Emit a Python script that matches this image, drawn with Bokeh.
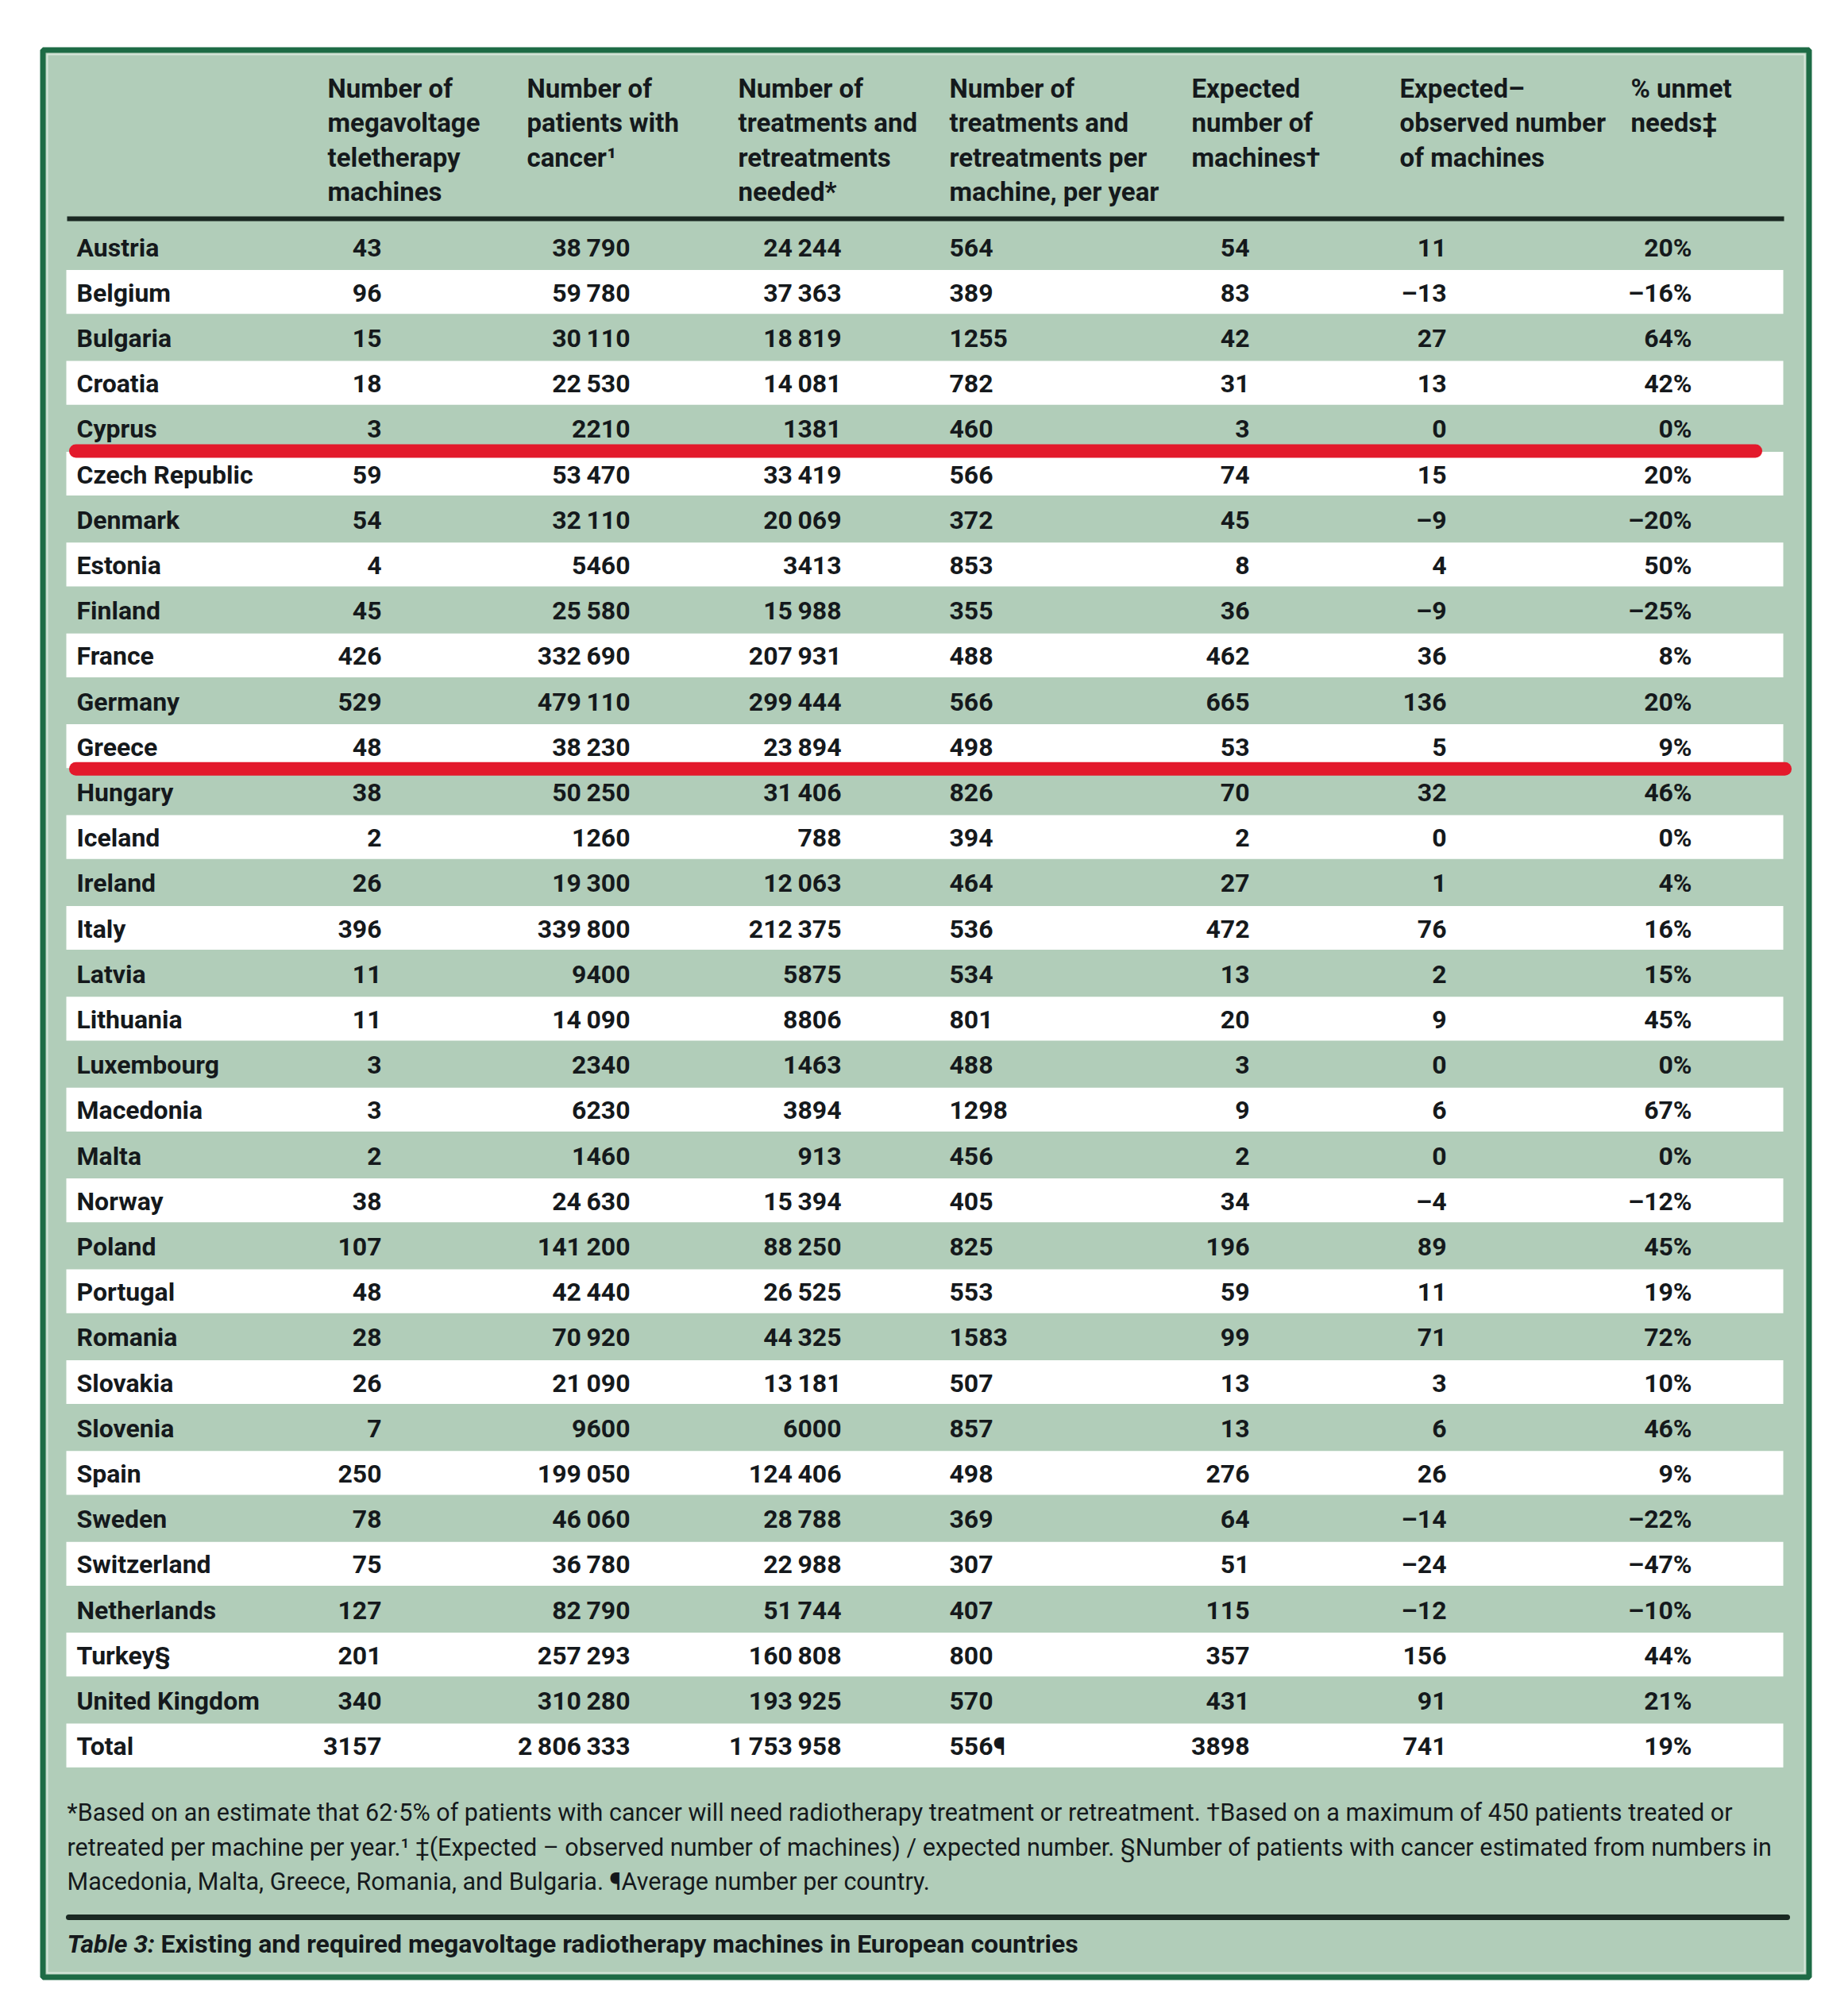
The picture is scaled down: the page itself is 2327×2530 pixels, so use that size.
from bokeh.plotting import figure
from bokeh.models import ColumnDataSource, Range1d
from bokeh.core.properties import value
from bokeh.embed import file_html
from bokeh.resources import INLINE

# ---------------- data ----------------
countries = ["Austria", "Belgium", "Bulgaria", "Croatia", "Cyprus", "Czech Republic",
             "Denmark", "Estonia", "Finland", "France", "Germany", "Greece", "Hungary",
             "Iceland", "Ireland", "Italy", "Latvia", "Lithuania", "Luxembourg",
             "Macedonia", "Malta", "Norway", "Poland", "Portugal", "Romania", "Slovakia",
             "Slovenia", "Spain", "Sweden", "Switzerland", "Netherlands", "Turkey§",
             "United Kingdom", "Total"]
machines = [43, 96, 15, 18, 3, 59, 54, 4, 45, 426, 529, 48, 38, 2, 26, 396, 11, 11, 3,
            3, 2, 38, 107, 48, 28, 26, 7, 250, 78, 75, 127, 201, 340, 3157]
patients = [38790, 59780, 30110, 22530, 2210, 53470, 32110, 5460, 25580, 332690,
            479110, 38230, 50250, 1260, 19300, 339800, 9400, 14090, 2340, 6230, 1460,
            24630, 141200, 42440, 70920, 21090, 9600, 199050, 46060, 36780, 82790,
            257293, 310280, 2806333]
treatments = [24244, 37363, 18819, 14081, 1381, 33419, 20069, 3413, 15988, 207931,
              299444, 23894, 31406, 788, 12063, 212375, 5875, 8806, 1463, 3894, 913,
              15394, 88250, 26525, 44325, 13181, 6000, 124406, 28788, 22988, 51744,
              160808, 193925, 1753958]
per_machine = [564, 389, 1255, 782, 460, 566, 372, 853, 355, 488, 566, 498, 826, 394,
               464, 536, 534, 801, 488, 1298, 456, 405, 825, 553, 1583, 507, 857, 498,
               369, 307, 407, 800, 570, 556]
per_machine_marks = [""] * 33 + ["¶"]
expected = [54, 83, 42, 31, 3, 74, 45, 8, 36, 462, 665, 53, 70, 2, 27, 472, 13, 20, 3,
            9, 2, 34, 196, 59, 99, 13, 13, 276, 64, 51, 115, 357, 431, 3898]
exp_minus_obs = [11, -13, 27, 13, 0, 15, -9, 4, -9, 36, 136, 5, 32, 0, 1, 76, 2, 9, 0,
                 6, 0, -4, 89, 11, 71, 3, 6, 26, -14, -24, -12, 156, 91, 741]
unmet_pct = [20, -16, 64, 42, 0, 20, -20, 50, -25, 8, 20, 9, 46, 0, 4, 16, 15, 45, 0,
             67, 0, -12, 45, 19, 72, 10, 46, 9, -22, -47, -10, 44, 21, 19]

headers = [
    ["Number of", "megavoltage", "teletherapy", "machines"],
    ["Number of", "patients with", "cancer¹"],
    ["Number of", "treatments and", "retreatments", "needed*"],
    ["Number of", "treatments and", "retreatments per", "machine, per year"],
    ["Expected", "number of", "machines†"],
    ["Expected–", "observed number", "of machines"],
    ["% unmet", "needs‡"],
]
footnotes = [
    "*Based on an estimate that 62·5% of patients with cancer will need radiotherapy treatment or retreatment. †Based on a maximum of 450 patients treated or",
    "retreated per machine per year.¹ ‡(Expected – observed number of machines) / expected number. §Number of patients with cancer estimated from numbers in",
    "Macedonia, Malta, Greece, Romania, and Bulgaria. ¶Average number per country.",
]
caption_label = "Table 3:"
caption_text = "Existing and required megavoltage radiotherapy machines in European countries"
highlight_after = ["Cyprus", "Greece"]

# ---------------- helpers ----------------
def fmt(n):
    s = f"{abs(n):d}"
    if abs(n) >= 10000:
        s = f"{abs(n):,d}".replace(",", "\u2009")
    return ("–" if n < 0 else "") + s

FONT = "Roboto"
BG = "#b1cdb9"
BORDER = "#1d6b45"
INK = "#15191c"
RED = "#e3192b"

W, H = 2311, 2514
OFF = 2  # data coordinates ~ screenshot pixels
p = figure(width=W, height=H, x_range=Range1d(OFF, OFF + W), y_range=Range1d(OFF + H, OFF),
           output_backend="svg", toolbar_location=None, min_border=0)
p.axis.visible = False
p.grid.visible = False
p.outline_line_color = None
p.background_fill_color = "white"
p.border_fill_color = "white"

# frame
p.quad(left=[55.5], right=[2279.5], top=[64.5], bottom=[2491.5],
       fill_color=BG, line_color=BORDER, line_width=7)
p.quad(left=[61], right=[2274], top=[70], bottom=[2486],
       fill_color=None, line_color="#d6e6da", line_width=2)

# rows
n = len(countries)
row_y0, dy = 312.0, 57.2
row_y = [row_y0 + i * dy for i in range(n)]
band_idx = [i for i in range(n) if i % 2 == 1]
p.quad(left=85, right=2247,
       top=[row_y[i] - dy / 2 + 1 for i in band_idx],
       bottom=[row_y[i] + dy / 2 - 1 for i in band_idx],
       fill_color="white", line_color=None)

# header rule
p.segment(x0=[86], y0=[277], x1=[2248], y1=[277], line_color="#1a2822", line_width=6)

# header texts
hdr_x = [414, 665, 931, 1197, 1502, 1764, 2055]
hx, hy, ht = [], [], []
for c, lines in enumerate(headers):
    for k, t in enumerate(lines):
        hx.append(hdr_x[c]); hy.append(113 + k * 43.4); ht.append(t)
p.text(x=hx, y=hy, text=ht, text_align="left", text_baseline="middle",
       text_font=value(FONT), text_font_size="33px", text_font_style="bold",
       text_color=INK)

# body cells
src = ColumnDataSource(dict(
    y=row_y, country=countries,
    c1=[fmt(v) for v in machines],
    c2=[fmt(v) for v in patients],
    c3=[fmt(v) for v in treatments],
    c4=[fmt(v) + m for v, m in zip(per_machine, per_machine_marks)],
    c5=[fmt(v) for v in expected],
    c6=[fmt(v) for v in exp_minus_obs],
    c7=[fmt(v) + "%" for v in unmet_pct],
))
cols = [("country", 98, "left"), ("c1", 482, "right"), ("c2", 795, "right"),
        ("c3", 1061, "right"), ("c4", 1197, "left"), ("c5", 1575, "right"),
        ("c6", 1823, "right"), ("c7", 2132, "right")]
for field, x, align in cols:
    p.text(x=x, y="y", text=field, source=src, text_align=align,
           text_baseline="middle", text_font=value(FONT), text_font_size="32px",
           text_font_style="bold", text_color=INK, y_offset=1)

# red highlight lines at row boundaries
hl_y = [row_y[countries.index(c)] + dy / 2 for c in highlight_after]
p.segment(x0=[97, 97], y0=hl_y, x1=[2212, 2249], y1=hl_y,
          line_color=RED, line_width=17, line_cap="round")

# footnotes
p.text(x=[86] * len(footnotes), y=[2284 + 43.5 * k for k in range(len(footnotes))],
       text=footnotes, text_align="left", text_baseline="middle",
       text_font=value(FONT), text_font_size="30.5px", text_color=INK)

# bottom rule
p.segment(x0=[88], y0=[2416], x1=[2252], y1=[2416], line_color="#1a2822",
          line_width=7, line_cap="round")

# caption
p.text(x=[86], y=[2449], text=[caption_label], text_align="left", text_baseline="middle",
       text_font=value(FONT), text_font_size="32px", text_font_style="bold italic",
       text_color=INK)
p.text(x=[204], y=[2449], text=[caption_text], text_align="left", text_baseline="middle",
       text_font=value(FONT), text_font_size="32px", text_font_style="bold",
       text_color=INK)

open("out.html", "w").write(file_html(p, INLINE))
